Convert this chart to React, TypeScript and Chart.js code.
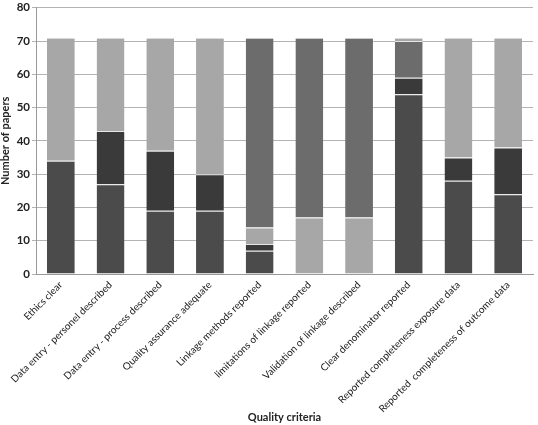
import React, { useEffect, useRef } from "react";
import { Chart, registerables } from "chart.js";

Chart.register(...registerables);

const categories = [
  "Ethics clear",
  "Data entry - personel described",
  "Data entry - process described",
  "Quality assurance adequate",
  "Linkage methods reported",
  "limitations of linkage reported",
  "Validation of linkage described",
  "Clear denominator reported",
  "Reported completeness exposure data",
  "Reported  completeness of outcome data",
];

const seriesA = [34, 27, 19, 19, 7, null, null, 54, 28, 24];
const seriesB = [null, 16, 18, 11, 2, null, null, 5, 7, 14];
const seriesC = [37, 28, 34, 41, 5, 17, 17, 11, 36, 33];
const seriesD = [null, null, null, null, 57, 54, 54, 1, null, null];

const yTicks = [0, 10, 20, 30, 40, 50, 60, 70, 80];

const DARK = "#4b4b4b";
const DARKER = "#3a3a3a";
const LIGHT = "#a7a7a7";
const MEDIUM = "#6c6c6c";
const FONT = "Lato, 'Liberation Sans', sans-serif";

export default function App() {
  const ref = useRef<HTMLCanvasElement>(null);
  useEffect(() => {
    document.body.style.margin = "0";
    const ctx = ref.current!.getContext("2d")!;
    const cColors = categories.map((_, i) => (i === 7 ? MEDIUM : LIGHT));
    const dColors = categories.map((_, i) => (i === 7 ? LIGHT : MEDIUM));
    const border = { top: 1, bottom: 0, left: 0, right: 0 };
    const common = { borderColor: "#e6e6e6", borderWidth: border, borderSkipped: false, categoryPercentage: 1, barPercentage: 0.56 };
    const chart = new Chart(ctx, {
      type: "bar",
      data: {
        labels: categories,
        datasets: [
          { label: "A", data: seriesA, backgroundColor: DARK, ...common },
          { label: "B", data: seriesB, backgroundColor: DARKER, ...common },
          { label: "C", data: seriesC, backgroundColor: cColors, ...common },
          { label: "D", data: seriesD, backgroundColor: dColors, ...common },
        ] as any,
      },
      options: {
        animation: false,
        responsive: false,
        layout: { padding: { left: 0, right: 5, top: 0, bottom: 0 } },
        plugins: { legend: { display: false }, tooltip: { enabled: false } },
        scales: {
          x: {
            stacked: true,
            afterFit: (axis: any) => {
              axis.height = 151;
            },
            grid: { display: false, drawTicks: false },
            border: { color: "#999999" },
            ticks: {
              maxRotation: 45,
              minRotation: 45,
              color: "#222222",
              font: { family: FONT, size: 10 },
              padding: 5,
              autoSkip: false,
            },
            title: {
              display: true,
              text: "Quality criteria",
              color: "#222222",
              font: { family: FONT, size: 11, weight: "bold" },
              padding: { top: 2, bottom: 1 },
            },
          },
          y: {
            stacked: true,
            min: 0,
            max: 80,
            afterFit: (axis: any) => {
              axis.width = 36;
            },
            afterBuildTicks: (axis: any) => {
              axis.ticks = yTicks.map((v) => ({ value: v }));
            },
            grid: { color: "#b3b3b3", tickLength: 4, lineWidth: 1 },
            border: { color: "#999999" },
            ticks: {
              color: "#222222",
              font: { family: FONT, size: 11.5, weight: "bold", lineHeight: 1 },
              padding: 2,
            },
            title: {
              display: true,
              text: "Number of papers",
              color: "#222222",
              font: { family: FONT, size: 11, weight: "bold" },
              padding: { top: -1, bottom: 2 },
            },
          },
        },
      },
    });
    return () => chart.destroy();
  }, []);
  return <canvas ref={ref} width={538} height={425} style={{ display: "block" }} />;
}
